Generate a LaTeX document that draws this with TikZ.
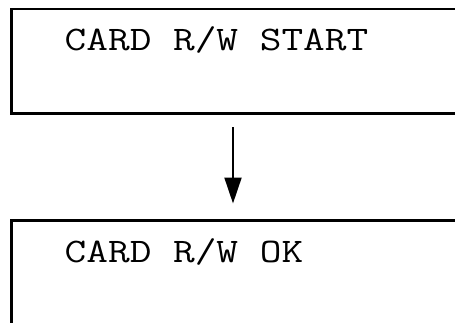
\documentclass[tikz,border=0pt]{standalone}
\usetikzlibrary{arrows.meta}
\newcommand{\lcdline}[1]{\scalebox{1.224}[1]{#1}}
\begin{document}
\begin{tikzpicture}[x=1pt,y=-1pt,
  screen/.style={draw=black, line width=2.6pt, fill=none, anchor=north west, inner sep=0pt},
  lcdtext/.style={anchor=base west, inner sep=0pt, font=\ttfamily\fontsize{34.4}{38}\selectfont},
  flow/.style={line width=2pt, -{Triangle[width=17pt,length=26pt]}}]
\useasboundingbox (0,0) rectangle (455,322);
\clip (0,0) rectangle (455,322);
\node[screen, minimum width=480pt, minimum height=104.5pt] (top) at (10,7.5) {};
\node[screen, minimum width=480pt, minimum height=140pt] (bot) at (10,219) {};
\node[lcdtext] (t1) at (64.5,50) {\lcdline{CARD R/W START}};
\node[lcdtext] (t2) at (64.5,262) {\lcdline{CARD R/W OK}};
\coordinate (a1) at (233,127);
\coordinate (a2) at (233,203.5);
\draw[flow] (a1) -- (a2);
\end{tikzpicture}
\end{document}
